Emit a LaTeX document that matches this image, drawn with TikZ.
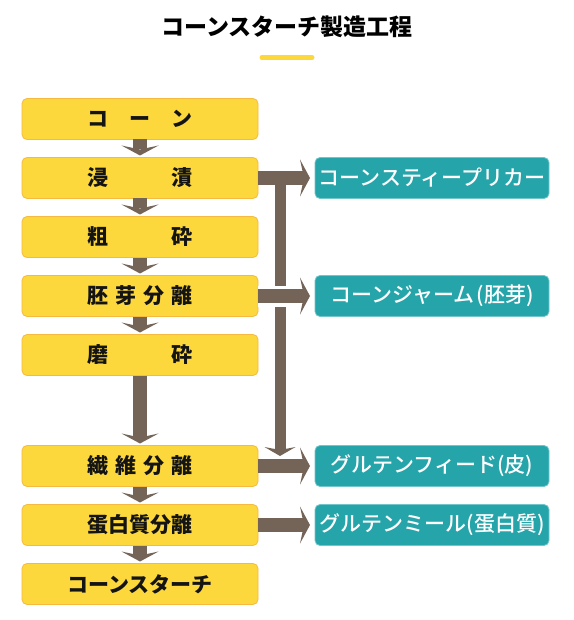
\documentclass[tikz,border=0pt]{standalone}
\usepackage{fontspec}
\setmainfont{Noto Sans CJK JP}
\newfontfamily\medfont{Noto Sans CJK JP Medium}
\usepackage{tikz}
\usetikzlibrary{positioning,arrows.meta}
\definecolor{stepyellow}{RGB}{252,216,60}
\definecolor{stepedge}{RGB}{246,186,64}
\definecolor{outteal}{RGB}{37,164,170}
\definecolor{outedge}{RGB}{112,198,202}
\definecolor{flowbrown}{RGB}{116,100,88}

\begin{document}
\begin{tikzpicture}[x=1pt,y=-1pt,
    stepbox/.style={rectangle, draw=stepedge, line width=0.8pt, fill=stepyellow, rounded corners=5pt,
        minimum width=236pt, minimum height=41pt, inner sep=0pt, outer sep=0pt,
        font=\fontsize{21}{21}\selectfont\bfseries, text=black!92},
    outbox/.style={rectangle, draw=outedge, line width=0.8pt, fill=outteal, rounded corners=5pt,
        minimum width=234pt, minimum height=41pt, inner sep=0pt, outer sep=0pt,
        font=\fontsize{21}{21}\selectfont\medfont, text=white},
    flowdown/.style={flowbrown, line width=14pt,
        -{Stealth[width=37pt,length=10pt,inset=4pt,line width=0pt]}, shorten >=2pt},
    flowside/.style={flowbrown, line width=14pt,
        -{Stealth[width=37pt,length=10pt,inset=4pt,line width=0pt]}, shorten >=5pt}
    ]
    \fill[white] (0,0) rectangle (573,620);
    \node[font=\fontsize{23}{23}\selectfont\bfseries] (title) at (287,27) {コーンスターチ製造工程};
    \draw[stepyellow, line width=5pt, line cap=round] (262,57.5) -- (312,57.5);

    \node[stepbox] (corn) at (140,119) {\makebox[105pt]{コ\hfill ー\hfill ン}};
    \node[stepbox, below=18pt of corn] (soak) {\makebox[105pt]{浸\hfill 漬}};
    \node[stepbox, below=18pt of soak] (crush) {\makebox[105pt]{粗\hfill 砕}};
    \node[stepbox, below=18pt of crush] (germ) {\makebox[105pt]{胚\hfill 芽\hfill 分\hfill 離}};
    \node[stepbox, below=18pt of germ] (mill) {\makebox[105pt]{磨\hfill 砕}};
    \node[stepbox, below=70pt of mill] (fiber) {\makebox[105pt]{繊\hfill 維\hfill 分\hfill 離}};
    \node[stepbox, below=18pt of fiber] (protein) {蛋白質分離};
    \node[stepbox, below=18pt of protein] (starch) {コーンスターチ};

    \node[outbox, right=57pt of soak] (liquor) {コーンスティープリカー};
    \node[outbox, right=57pt of germ] (germout) {コーンジャーム\hspace{2pt}(胚芽)};
    \node[outbox, right=57pt of fiber] (feed) {グルテンフィード(皮)};
    \node[outbox, right=57pt of protein] (meal) {グルテンミール(蛋白質)};

    \foreach \a/\b in {corn/soak, soak/crush, crush/germ, germ/mill, mill/fiber, fiber/protein, protein/starch}
        \draw[flowdown] (\a) -- (\b);

    \path (soak.east) ++(22,0) coordinate (junc);
    \path (fiber.east) ++(22,-10) coordinate (dropend);
    \draw[flowbrown, line width=11pt, -{Stealth[width=31pt,length=9pt,inset=3pt,line width=0pt]}] (junc) -- (dropend);
    \draw[white, line width=21pt, shorten >=12pt] (germ) -- (germout);

    \foreach \a/\b in {soak/liquor, germ/germout, fiber/feed, protein/meal}
        \draw[flowside] (\a) -- (\b);
\end{tikzpicture}
\end{document}
